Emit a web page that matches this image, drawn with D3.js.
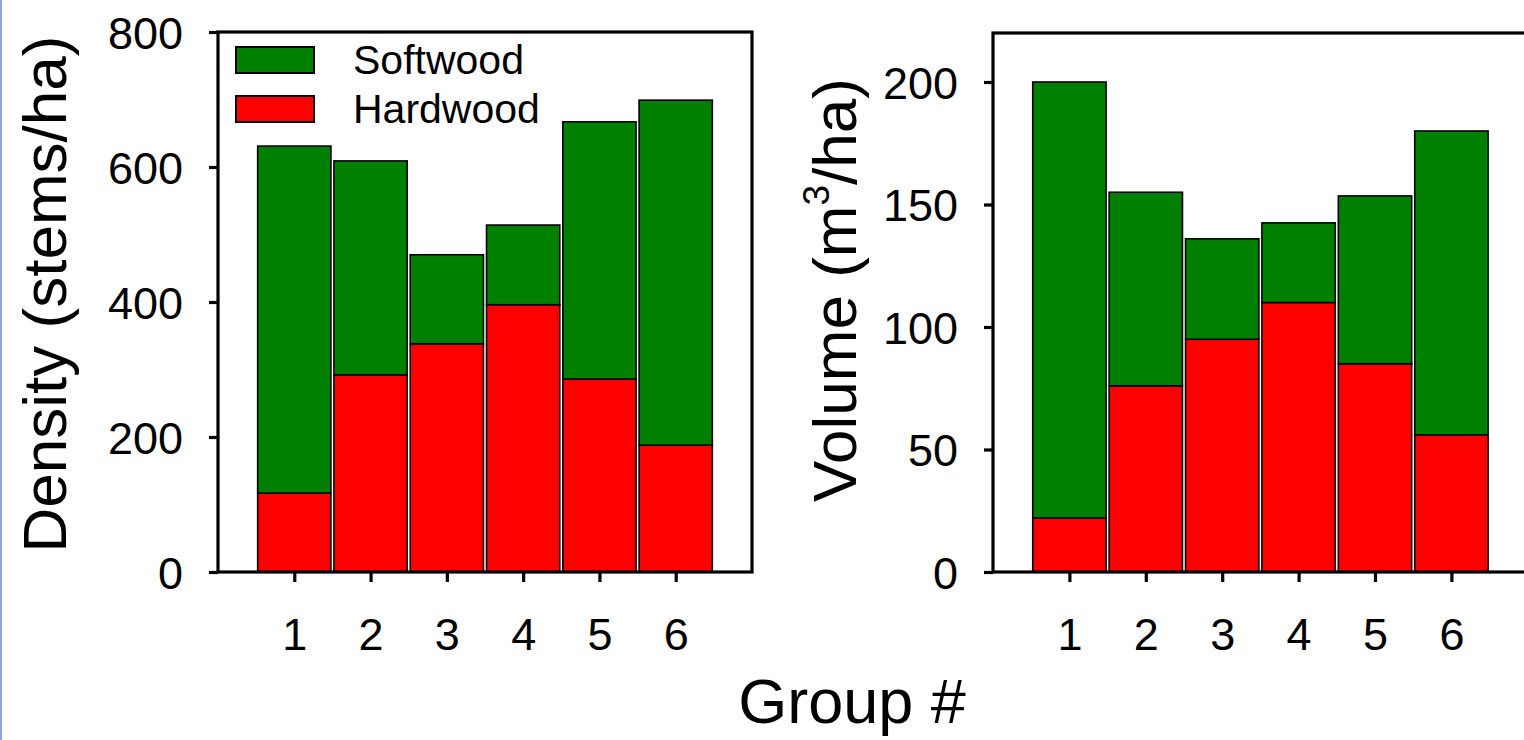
<!DOCTYPE html>
<html>
<head>
<meta charset="utf-8">
<script src="https://cdn.jsdelivr.net/npm/d3@7"></script>
<style>
  html, body { margin: 0; padding: 0; background: #fff; overflow: hidden; }
  svg { display: block; }
  text { font-family: "Liberation Sans", Arial, sans-serif; fill: #000; }
</style>
</head>
<body>
<script>
// ---- data ----
const groups = [1, 2, 3, 4, 5, 6];
const seriesKeys = ["Hardwood", "Softwood"];
const densityHardwood = [117, 292, 338, 396, 286, 188];
const densitySoftwood = [514, 317, 132, 118, 381, 511];
const volumeHardwood = [22, 76, 95, 110, 85, 56];
const volumeSoftwood = [178, 79, 41, 32.5, 68.5, 124];
const densityTicks = [0, 200, 400, 600, 800];
const volumeTicks = [0, 50, 100, 150, 200];
const colors = { Softwood: "#008000", Hardwood: "#ff0000" };

const W = 1524, H = 740;
const svg = d3.select("body").append("svg").attr("width", W).attr("height", H);
svg.append("rect").attr("x", 0).attr("y", 0).attr("width", W).attr("height", H).attr("fill", "#fff");
// thin blue border at left edge
svg.append("line").attr("x1", 1).attr("x2", 1).attr("y1", 0).attr("y2", H)
  .attr("stroke", "#8ea8dc").attr("stroke-width", 2);

function panel(opts) {
  const { x0, x1, yTop, yBot, yMax, hard, soft, ticks } = opts;
  const x = d3.scaleLinear().domain([0, 7]).range([x0, x1]);
  const y = d3.scaleLinear().domain([0, yMax]).range([yBot, yTop]);
  const g = svg.append("g");

  const rows = groups.map((gname, i) => ({ group: gname, Hardwood: hard[i], Softwood: soft[i] }));
  const stacked = d3.stack().keys(seriesKeys)(rows);
  const bw = 0.96;
  stacked.forEach(layer => {
    g.append("g").selectAll("rect").data(layer).join("rect")
      .attr("x", d => x(d.data.group - bw / 2))
      .attr("width", d => x(bw) - x(0))
      .attr("y", d => y(d[1]))
      .attr("height", d => y(d[0]) - y(d[1]))
      .attr("fill", colors[layer.key])
      .attr("stroke", "#000")
      .attr("stroke-width", 1.6);
  });

  // frame
  g.append("rect").attr("x", x0).attr("y", yTop).attr("width", x1 - x0).attr("height", yBot - yTop)
    .attr("fill", "none").attr("stroke", "#000").attr("stroke-width", 3.2);

  const yAxis = d3.axisLeft(y).tickValues(ticks).tickFormat(d3.format("d"))
    .tickSize(9).tickSizeOuter(0).tickPadding(26);
  const ya = g.append("g").attr("transform", `translate(${x0},0)`).call(yAxis);
  ya.select(".domain").remove();
  ya.selectAll(".tick line").attr("stroke", "#000").attr("stroke-width", 3.2);
  ya.selectAll(".tick text").attr("font-size", 45).attr("font-family", "Liberation Sans, Arial, sans-serif").attr("dy", "0.36em");

  const xAxis = d3.axisBottom(x).tickValues(groups).tickFormat(d3.format("d"))
    .tickSize(10).tickSizeOuter(0).tickPadding(36);
  const xa = g.append("g").attr("transform", `translate(0,${yBot})`).call(xAxis);
  xa.select(".domain").remove();
  xa.selectAll(".tick line").attr("stroke", "#000").attr("stroke-width", 3.2);
  xa.selectAll(".tick text").attr("font-size", 45).attr("font-family", "Liberation Sans, Arial, sans-serif").attr("dy", "0.71em");
  return { x, y, g };
}

const left = panel({ x0: 218, x1: 752, yTop: 32, yBot: 572, yMax: 800,
  hard: densityHardwood, soft: densitySoftwood, ticks: densityTicks });
const right = panel({ x0: 993, x1: 993 + 7 * 76.4, yTop: 33, yBot: 572, yMax: 220,
  hard: volumeHardwood, soft: volumeSoftwood, ticks: volumeTicks });

// legend
const legendItems = ["Softwood", "Hardwood"];
const lg = svg.append("g");
legendItems.forEach((k, i) => {
  lg.append("rect").attr("x", 236).attr("y", 47 + i * 49).attr("width", 78).attr("height", 26)
    .attr("fill", colors[k]).attr("stroke", "#000").attr("stroke-width", 2);
  lg.append("text").attr("x", 353).attr("y", 74 + i * 49).attr("font-size", 41).text(k);
});

// axis titles
svg.append("text").attr("transform", "translate(66,294) rotate(-90)")
  .attr("text-anchor", "middle").attr("font-size", 62).text("Density (stems/ha)");

const vt = svg.append("text").attr("transform", "translate(856,290) rotate(-90)")
  .attr("text-anchor", "middle").attr("font-size", 62);
vt.append("tspan").text("Volume (m");
vt.append("tspan").attr("font-size", 37).attr("dy", -27).text("3");
vt.append("tspan").attr("dy", 27).text("/ha)");

svg.append("text").attr("x", 852).attr("y", 723).attr("text-anchor", "middle")
  .attr("font-size", 63).text("Group #");
</script>
</body>
</html>
